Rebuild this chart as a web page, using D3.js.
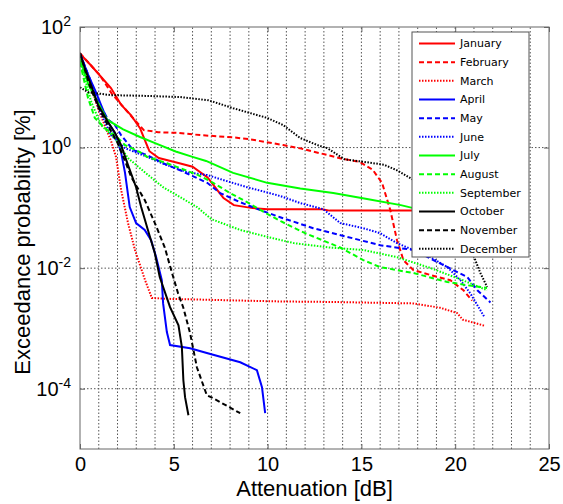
<!DOCTYPE html>
<html>
<head>
<meta charset="utf-8">
<script src="https://cdn.jsdelivr.net/npm/d3@7"></script>
<style>
  html, body { margin: 0; padding: 0; background: #fff; }
  svg { display: block; font-family: "Liberation Sans", Arial, sans-serif; }
</style>
</head>
<body>
<svg id="chart"></svg>
<script>
// [attenuation dB, exceedance probability %]
const january = [[0, 36], [0.59, 23], [1.65, 9.7], [2.2, 5.1], [2.7, 3.5], [3.2, 2.1], [3.5, 1.23], [3.7, 0.87], [4.2, 0.67], [5.3, 0.55], [6.0, 0.48], [6.8, 0.32], [7.3, 0.2], [7.65, 0.145], [8.2, 0.111], [9.2, 0.099], [10, 0.095], [12.9, 0.095], [13.3, 0.09], [18, 0.09]];
const february = [[0, 37], [0.25, 30], [1.05, 16], [1.7, 7.8], [2.45, 4.2], [2.9, 2.9], [3.4, 1.95], [4.16, 1.8], [5.23, 1.75], [6.4, 1.61], [8.16, 1.48], [9.07, 1.37], [10.83, 1.1], [11.74, 0.97], [13.2, 0.75], [14.0, 0.65], [14.9, 0.58], [15.6, 0.43], [16.1, 0.26], [16.54, 0.092], [16.9, 0.029], [17.24, 0.0136], [17.77, 0.0093], [18.68, 0.0077], [19.74, 0.0063], [20.44, 0.0043], [20.9, 0.0029]];
const march = [[0, 36], [0.45, 14], [0.96, 4.5], [1.4, 2.0], [1.65, 1.3], [1.92, 0.7], [2.19, 0.2], [2.56, 0.056], [2.93, 0.02], [3.47, 0.0063], [3.83, 0.0032], [4.63, 0.0031], [10.67, 0.0028], [13.3, 0.00275], [17.8, 0.0026], [19.2, 0.0022], [20.1, 0.0018], [20.4, 0.0014], [21.6, 0.0011]];
const april = [[0, 36], [0.4, 17], [0.85, 8.3], [1.12, 5.1], [1.49, 2.65], [1.92, 1.61], [2.19, 0.84], [2.4, 0.38], [2.65, 0.103], [2.99, 0.056], [3.45, 0.043], [3.79, 0.029], [4.06, 0.0152], [4.36, 0.0063], [4.43, 0.0026], [4.63, 0.00087], [4.8, 0.00053], [5.87, 0.00047], [6.76, 0.00039], [8.54, 0.000275], [9.43, 0.000203], [9.7, 0.000106], [9.87, 0.0000392]];
const may = [[0, 36], [0.52, 14], [1.0, 5.5], [1.5, 2.9], [1.85, 2.4], [2.19, 1.61], [2.83, 0.91], [3.58, 0.75], [4.43, 0.55], [5.34, 0.42], [6.78, 0.26], [7.47, 0.176], [8.54, 0.124], [9.6, 0.092], [10.67, 0.07], [12.43, 0.046], [14.25, 0.033], [16.0, 0.024], [17.77, 0.02], [19.05, 0.0126], [19.9, 0.0093], [20.65, 0.0071], [21.18, 0.0043], [21.88, 0.0027]];
const june = [[0, 36], [0.5, 14], [1.0, 4.5], [1.65, 1.6], [2.4, 0.98], [3.58, 0.7], [4.64, 0.51], [5.71, 0.39], [6.78, 0.35], [7.63, 0.29], [8.91, 0.22], [9.98, 0.18], [10.67, 0.157], [11.74, 0.12], [12.97, 0.095], [13.87, 0.056], [15.1, 0.046], [16.0, 0.038], [16.9, 0.026], [17.77, 0.02], [18.68, 0.0152], [19.58, 0.0104], [20.28, 0.0063], [20.81, 0.0038], [21.56, 0.00154]];
const july = [[0, 30], [0.45, 11], [0.9, 6], [1.44, 2.9], [2.3, 2.0], [3.2, 1.5], [4.1, 1.15], [5.1, 0.86], [6.0, 0.7], [6.72, 0.6], [8.16, 0.38], [9.98, 0.26], [11.74, 0.21], [13.5, 0.176], [15.3, 0.14], [17.1, 0.111], [17.77, 0.099], [18.5, 0.09]];
const august = [[0, 26], [0.43, 6.6], [0.79, 3.1], [1.32, 2.1], [1.85, 1.61], [2.4, 1.1], [3.2, 0.84], [3.58, 0.7], [4.64, 0.55], [6.3, 0.35], [7.1, 0.26], [8.0, 0.176], [9.0, 0.12], [9.9, 0.082], [10.7, 0.06], [12.0, 0.038], [13.87, 0.022], [15.1, 0.0136], [16.0, 0.0104], [17.77, 0.0083], [19.58, 0.0059], [20.65, 0.0052], [21.7, 0.0047]];
const september = [[0, 28], [0.6, 5.7], [1.12, 2.36], [1.85, 1.44], [2.56, 0.67], [3.45, 0.39], [4.43, 0.22], [5.34, 0.15], [6.24, 0.103], [7.0, 0.065], [8.54, 0.043], [9.98, 0.033], [11.4, 0.026], [13.3, 0.022], [15.1, 0.02], [16.9, 0.0152], [18.7, 0.01], [20.4, 0.0063], [21.7, 0.0043]];
const october = [[0, 37], [0.25, 21], [0.59, 10.9], [0.96, 5.1], [1.49, 2.65], [1.85, 1.8], [2.19, 1.1], [2.56, 0.51], [2.99, 0.22], [3.26, 0.103], [3.62, 0.043], [3.99, 0.0177], [4.25, 0.0071], [4.8, 0.00225], [5.25, 0.00113], [5.43, 0.00049], [5.51, 0.000138], [5.6, 0.0000723], [5.78, 0.0000363]];
const november = [[0, 37], [0.5, 11], [1.0, 4.5], [1.5, 2.3], [2.0, 1.2], [2.4, 0.6], [2.74, 0.32], [3.45, 0.135], [3.99, 0.056], [4.52, 0.022], [4.86, 0.0093], [5.23, 0.0038], [5.5, 0.00225], [5.87, 0.00083], [6.23, 0.000227], [6.76, 0.000078], [7.1, 0.0000695], [8.54, 0.0000392]];
const december = [[0, 10], [0.43, 8.3], [1.65, 7.4], [3.47, 7.2], [5.3, 6.9], [6.83, 6.1], [7.3, 5.5], [8.16, 4.5], [9.98, 3.1], [10.83, 2.36], [11.74, 1.44], [12.65, 1.1], [13.18, 0.98], [14.1, 0.64], [15.3, 0.57], [16.2, 0.52], [16.9, 0.42], [17.77, 0.29], [21.0, 0.0155], [21.34, 0.0083], [21.7, 0.0049]];

const months = ["January", "February", "March", "April", "May", "June", "July", "August", "September", "October", "November", "December"];
const series = [january, february, march, april, may, june, july, august, september, october, november, december];
const xTicks = [0, 5, 10, 15, 20, 25];
const yTicks = [1e-4, 1e-2, 1e0, 1e2];

const colors = ["#ff0000", "#0000ff", "#00ff00", "#000000"];
const dashes = [null, "5,3", "1.5,1.5"];

const width = 563;
const height = 504;
const margin = { left: 80, right: 14, top: 27, bottom: 55 };

const svg = d3.select("#chart").attr("width", width).attr("height", height);

const x = d3.scaleLinear().domain([0, 25]).range([margin.left, width - margin.right]);
const y = d3.scaleLog().domain([1e-5, 1e2]).range([height - margin.bottom, margin.top]);

// grid
svg.append("g")
  .selectAll("line")
  .data(d3.range(1, 25))
  .join("line")
  .attr("x1", (d) => x(d))
  .attr("x2", (d) => x(d))
  .attr("y1", y.range()[0])
  .attr("y2", y.range()[1])
  .attr("stroke", "#555")
  .attr("stroke-dasharray", "1.5,2");

svg.append("g")
  .selectAll("line")
  .data(yTicks.slice(0, 3))
  .join("line")
  .attr("x1", x.range()[0])
  .attr("x2", x.range()[1])
  .attr("y1", (d) => y(d))
  .attr("y2", (d) => y(d))
  .attr("stroke", "#555")
  .attr("stroke-dasharray", "1.5,2");

svg.append("defs").append("clipPath").attr("id", "clip")
  .append("rect")
  .attr("x", x.range()[0])
  .attr("y", y.range()[1])
  .attr("width", x.range()[1] - x.range()[0])
  .attr("height", y.range()[0] - y.range()[1]);

const line = d3.line().x((d) => x(d[0])).y((d) => y(d[1]));

svg.append("g")
  .attr("clip-path", "url(#clip)")
  .selectAll("path")
  .data(series)
  .join("path")
  .attr("d", line)
  .attr("fill", "none")
  .attr("stroke", (d, i) => colors[Math.floor(i / 3)])
  .attr("stroke-width", 2)
  .attr("stroke-dasharray", (d, i) => dashes[i % 3]);

// axes
svg.append("g")
  .attr("transform", `translate(0,${y.range()[0]})`)
  .call(d3.axisBottom(x).tickValues(xTicks).tickSizeInner(-5).tickSizeOuter(0).tickPadding(8).tickFormat(d3.format("d")))
  .call((g) => g.select(".domain").remove())
  .call((g) => g.selectAll("line").attr("stroke", "#666"))
  .call((g) => g.selectAll("text").attr("font-size", 20).attr("font-family", "Liberation Sans, Arial, sans-serif").attr("fill", "#000"));

svg.append("g")
  .attr("transform", `translate(0,${y.range()[1]})`)
  .call(d3.axisTop(x).tickValues(xTicks).tickSizeInner(-5).tickSizeOuter(0).tickFormat(""))
  .call((g) => g.select(".domain").remove())
  .call((g) => g.selectAll("line").attr("stroke", "#666"));

svg.append("g")
  .attr("transform", `translate(${x.range()[0]},0)`)
  .call(d3.axisLeft(y).tickValues(yTicks).tickSizeInner(-5).tickSizeOuter(0).tickPadding(9).tickFormat(""))
  .call((g) => g.select(".domain").remove())
  .call((g) => g.selectAll("line").attr("stroke", "#666"))
  .call((g) => g.selectAll("text")
    .attr("font-size", 20)
    .attr("font-family", "Liberation Sans, Arial, sans-serif")
    .attr("fill", "#000")
    .each(function (d) {
      const t = d3.select(this);
      t.append("tspan").text("10");
      t.append("tspan").attr("dy", "-0.55em").attr("font-size", 14).text(Math.round(Math.log10(d)));
    }));

svg.append("g")
  .attr("transform", `translate(${x.range()[1]},0)`)
  .call(d3.axisRight(y).tickValues(yTicks).tickSizeInner(-5).tickSizeOuter(0).tickFormat(""))
  .call((g) => g.select(".domain").remove())
  .call((g) => g.selectAll("line").attr("stroke", "#666"));

svg.append("rect")
  .attr("x", x.range()[0])
  .attr("y", y.range()[1])
  .attr("width", x.range()[1] - x.range()[0])
  .attr("height", y.range()[0] - y.range()[1])
  .attr("fill", "none")
  .attr("stroke", "#666");

svg.append("text")
  .attr("x", (x.range()[0] + x.range()[1]) / 2)
  .attr("y", 496)
  .attr("text-anchor", "middle")
  .attr("font-size", 22)
  .text("Attenuation [dB]");

svg.append("text")
  .attr("transform", `translate(30,${(y.range()[0] + y.range()[1]) / 2 + 4}) rotate(-90)`)
  .attr("text-anchor", "middle")
  .attr("font-size", 22)
  .text("Exceedance probability [%]");

// legend
const legend = svg.append("g").attr("transform", "translate(412,32)");

legend.append("rect")
  .attr("width", 117)
  .attr("height", 225)
  .attr("fill", "#fff")
  .attr("stroke", "#555");

const item = legend.selectAll("g")
  .data(months)
  .join("g")
  .attr("transform", (d, i) => `translate(0,${11.5 + i * 18.67})`);

item.append("line")
  .attr("x1", 7)
  .attr("x2", 43)
  .attr("stroke", (d, i) => colors[Math.floor(i / 3)])
  .attr("stroke-width", 2)
  .attr("stroke-dasharray", (d, i) => dashes[i % 3]);

item.append("text")
  .attr("x", 48)
  .attr("dy", "0.35em")
  .attr("font-family", "DejaVu Sans, sans-serif")
  .attr("font-size", 11)
  .text((d) => d);
</script>
</body>
</html>
